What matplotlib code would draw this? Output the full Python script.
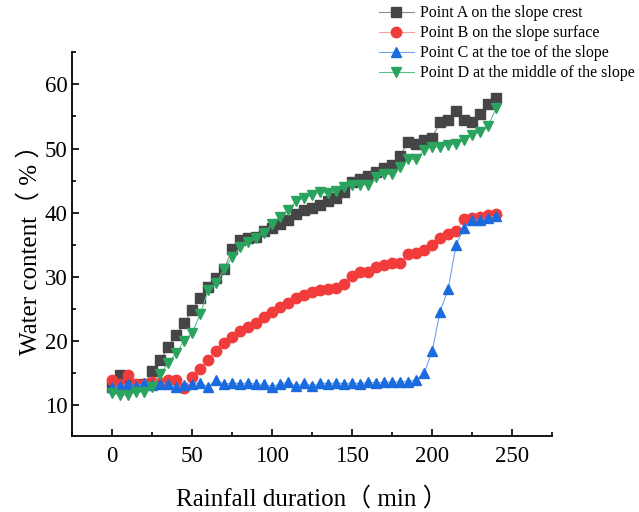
import numpy as np
import matplotlib
matplotlib.use("Agg")
import matplotlib.pyplot as plt
from matplotlib.ticker import MultipleLocator

# rainfall duration, every 5 min
t = np.arange(0, 245, 5)

point_a = [12.8, 14.7, 13.4, 13.2, 13.3, 15.3, 17.0, 19.1, 20.9, 22.9,
           24.8, 26.8, 28.4, 29.8, 31.2, 34.3, 35.7, 36.0, 36.3, 37.2,
           37.6, 38.2, 38.9, 39.8, 40.4, 40.8, 41.2, 41.8, 42.3, 43.2,
           44.8, 45.2, 45.7, 46.3, 47.0, 47.5, 48.9, 51.0, 50.7, 51.3,
           51.7, 54.1, 54.4, 55.9, 54.5, 54.1, 55.4, 56.9, 57.8]
point_b = [13.9, 13.3, 14.7, 13.4, 13.3, 13.6, 13.5, 13.9, 13.9, 12.7,
           14.5, 15.7, 17.1, 18.5, 19.7, 20.6, 21.6, 22.2, 22.8, 23.7,
           24.6, 25.4, 26.0, 26.7, 27.2, 27.6, 27.9, 28.1, 28.3, 28.9,
           30.2, 30.7, 30.7, 31.6, 31.9, 32.1, 32.1, 33.5, 33.7, 34.2,
           35.0, 36.0, 36.7, 37.2, 39.0, 39.2, 39.4, 39.7, 39.8]
point_c = [12.8, 13.0, 13.3, 13.0, 13.5, 13.2, 13.4, 13.3, 12.8, 13.1,
           13.4, 13.5, 12.9, 14.0, 13.3, 13.5, 13.4, 13.5, 13.3, 13.3,
           12.9, 13.4, 13.6, 13.0, 13.5, 13.0, 13.5, 13.4, 13.5, 13.4,
           13.5, 13.4, 13.6, 13.5, 13.6, 13.6, 13.7, 13.7, 14.0, 15.0,
           18.4, 24.6, 28.1, 35.0, 37.7, 38.8, 38.9, 39.2, 39.5]
point_d = [11.9, 11.6, 11.6, 12.1, 12.1, 12.8, 14.9, 16.6, 18.1, 20.1,
           21.3, 24.2, 27.9, 29.0, 31.2, 33.1, 34.6, 35.4, 36.0, 36.9,
           38.2, 39.3, 40.4, 41.8, 42.3, 42.8, 43.3, 43.0, 43.4, 44.0,
           44.3, 44.4, 44.4, 45.5, 46.0, 46.0, 47.1, 48.3, 48.3, 49.7,
           50.3, 50.2, 50.6, 50.7, 51.4, 52.1, 52.6, 53.5, 56.3]

labels = ["Point A on the slope crest",
          "Point B on the slope surface",
          "Point C at the toe of the slope",
          "Point D at the middle of the slope"]

serif = ["Liberation Serif", "Noto Sans CJK SC"]
plt.rcParams["font.family"] = serif

fig = plt.figure(figsize=(6.39, 5.12), dpi=100)
ax = fig.add_axes([0.113, 0.148, 0.751, 0.750])

ax.plot(t, point_a, color="#8a8a8a", lw=0.8, marker="s", ms=7,
        mfc="#454545", mec="#454545", label=labels[0])
ax.plot(t, point_b, color="#f7a0a0", lw=0.8, marker="o", ms=7.5,
        mfc="#f23c3c", mec="#f23c3c", label=labels[1])
ax.plot(t, point_c, color="#6ea4ef", lw=0.8, marker="^", ms=7.5,
        mfc="#1a6be0", mec="#1a6be0", label=labels[2])
ax.plot(t, point_d, color="#5cc48a", lw=0.8, marker="v", ms=7.5,
        mfc="#2aa35e", mec="#2aa35e", label=labels[3])

ax.set_xlim(-25, 275)
ax.set_ylim(5.2, 65)
ax.xaxis.set_major_locator(MultipleLocator(50))
ax.xaxis.set_minor_locator(MultipleLocator(25))
ax.yaxis.set_major_locator(MultipleLocator(10))
ax.yaxis.set_minor_locator(MultipleLocator(5))
ax.tick_params(which="both", direction="in", labelsize=16.5, width=1.2)
ax.tick_params(which="major", length=5)
ax.tick_params(which="minor", length=3)
ax.tick_params(axis="x", pad=7)
for side in ["top", "right"]:
    ax.spines[side].set_visible(False)
for side in ["left", "bottom"]:
    ax.spines[side].set_linewidth(1.3)

ax.set_xlabel("Rainfall duration（ min ）", fontsize=18, labelpad=14)
ax.set_ylabel("Water content（ % ）", fontsize=18, labelpad=2)

fig.legend(loc="upper left", bbox_to_anchor=(0.578, 1.008), frameon=False,
           fontsize=11.5, handlelength=2.2, handletextpad=0.4,
           labelspacing=0.25, borderaxespad=0.2)

fig.savefig("out.png", dpi=100)
